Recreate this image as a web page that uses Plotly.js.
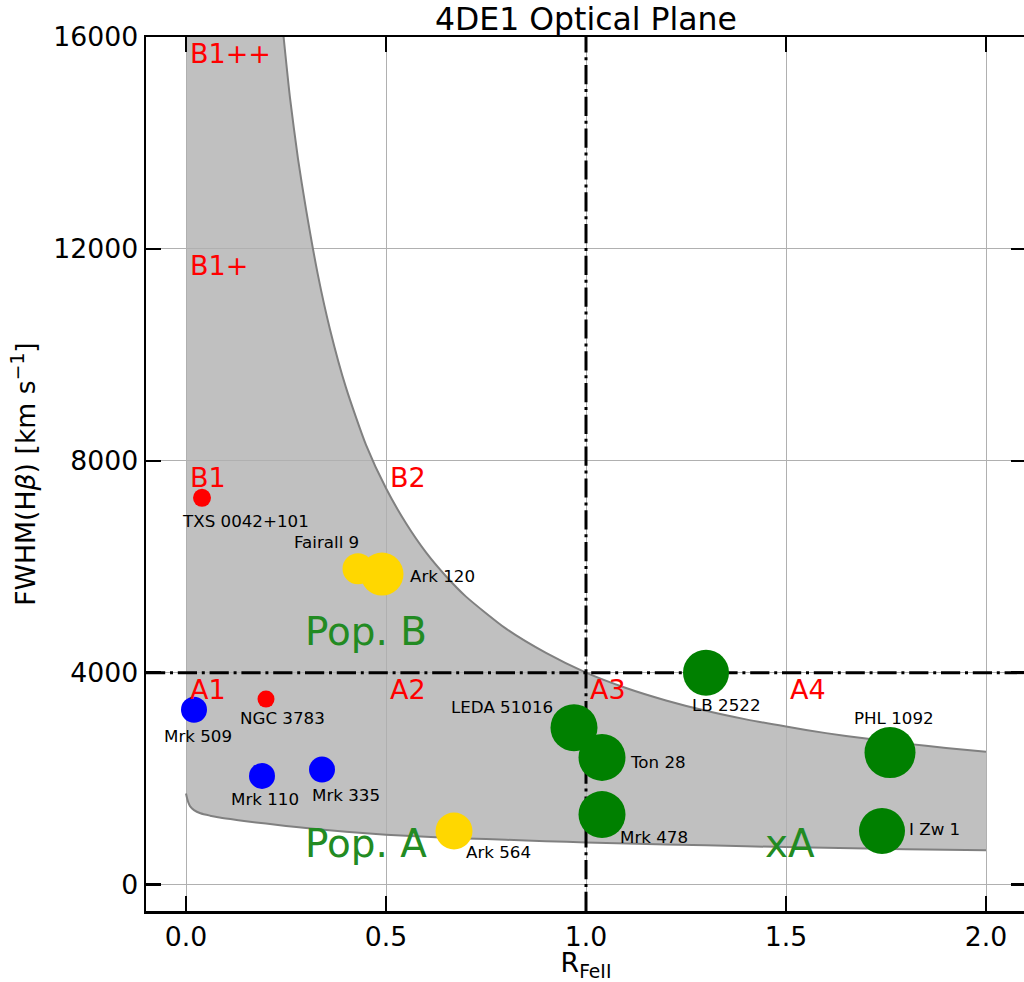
<!DOCTYPE html>
<html><head><meta charset="utf-8">
<script src="https://cdn.plot.ly/plotly-3.0.1.min.js"></script>
<style>html,body{margin:0;padding:0;overflow:hidden;background:#fff}</style>
</head><body><div id="chart" style="width:1030px;height:982px"></div>
<script>
// ---------------- data ----------------
const sourceNames = ['TXS 0042+101','NGC 3783','Mrk 509','Mrk 110','Mrk 335','Fairall 9','Ark 120','Ark 564','LEDA 51016','Ton 28','Mrk 478','LB 2522','PHL 1092','I Zw 1'];
const sourceR     = [0.04, 0.20, 0.02, 0.19, 0.34, 0.43, 0.49, 0.67, 0.97, 1.04, 1.04, 1.30, 1.76, 1.74];
const sourceFWHM  = [7300, 3500, 3300, 2050, 2170, 5960, 5860, 1010, 2960, 2400, 1320, 4000, 2490, 1010];

// upper envelope of the occupied region
const upperR = [0.244, 0.26, 0.28, 0.30, 0.33, 0.36, 0.40, 0.45, 0.50, 0.55, 0.60, 0.65, 0.70, 0.80, 0.90, 1.00, 1.10, 1.20, 1.30, 1.40, 1.50, 1.60, 1.70, 1.80, 1.90, 2.00];
const upperF = [16000, 14850, 13700, 12750, 11500, 10480, 9380, 8300, 7480, 6820, 6270, 5820, 5435, 4830, 4372, 4000, 3710, 3475, 3280, 3118, 2982, 2858, 2755, 2660, 2578, 2505];
// lower envelope
const lowerR = [0, 0.003, 0.006, 0.01, 0.02, 0.036, 0.06, 0.08, 0.111, 0.15, 0.2, 0.25, 0.3, 0.4, 0.5, 0.6, 0.7, 0.8, 0.9, 1.0, 1.2, 1.4, 1.6, 1.8, 2.0];
const lowerF = [1719, 1620, 1545, 1480, 1405, 1345, 1300, 1270, 1235, 1195, 1150, 1105, 1065, 995, 940, 900, 870, 845, 818, 795, 757, 722, 692, 668, 648];

// population boundaries
const boundaryR = 1.0;
const boundaryFWHM = 4000;

// spectral-type region labels
const regionNames = ['B1++','B1+','B1','B2','A1','A2','A3','A4'];
const regionR     = [0.01, 0.01, 0.01, 0.51, 0.01, 0.51, 1.01, 1.51];
const regionF     = [15500, 11500, 7500, 7500, 3500, 3500, 3500, 3500];

const popNames = ['Pop. B', 'Pop. A', 'xA'];
const popR     = [0.30, 0.30, 1.45];
const popF     = [4500, 500, 500];

// axes
const xRange = [-0.1, 2.1];
const yRange = [-500, 16000];
const xTicks = [0.0, 0.5, 1.0, 1.5, 2.0];
const yTicks = [0, 4000, 8000, 12000, 16000];

// ---------------- styles ----------------
const markerColors = ['#ff0000','#ff0000','#0000ff','#0000ff','#0000ff','#ffd700','#ffd700','#ffd700','#008000','#008000','#008000','#008000','#008000','#008000'];
const markerSizes  = [18, 17, 26, 26, 26, 31, 43, 37, 47, 47, 47, 46, 51, 46];
// label offsets (px, right / down) from marker centre
const labelDX = [43, 16, 4, 3, 24, -32, 60, 44, -72, 56, 52, 20, 4, 52];
const labelDY = [23, 19, 26, 23, 25, -27, 2, 21, -21, 5, 22, 32, -35, -2];

const FONT = 'DejaVu Sans, Liberation Sans, sans-serif';

// ---------------- traces ----------------
const fillX = [0].concat(upperR, lowerR.slice().reverse());
const fillY = [yRange[1]].concat(upperF, lowerF.slice().reverse());

const traces = [
  {x: fillX, y: fillY, type: 'scatter', mode: 'lines', fill: 'toself',
   fillcolor: 'rgba(176,176,176,0.8)', line: {width: 0}, hoverinfo: 'skip'},
  {x: upperR, y: upperF, type: 'scatter', mode: 'lines', line: {color: '#808080', width: 2, shape: 'spline', smoothing: 0.6}, hoverinfo: 'skip'},
  {x: lowerR, y: lowerF, type: 'scatter', mode: 'lines', line: {color: '#808080', width: 2, shape: 'spline', smoothing: 0.6}, hoverinfo: 'skip'},
  {x: xRange, y: [boundaryFWHM, boundaryFWHM], type: 'scatter', mode: 'lines',
   line: {color: '#000', width: 3, dash: '19.2px,4.8px,3px,4.8px'}, hoverinfo: 'skip'},
  {x: [boundaryR, boundaryR], y: yRange, type: 'scatter', mode: 'lines',
   line: {color: '#000', width: 3, dash: '19.2px,4.8px,3px,4.8px'}, hoverinfo: 'skip'},
  {x: sourceR, y: sourceFWHM, type: 'scatter', mode: 'markers',
   marker: {color: markerColors, size: markerSizes, opacity: 1, line: {width: 0}}}
];

// ---------------- annotations ----------------
const annotations = [];
sourceNames.forEach((n, i) => annotations.push({
  x: sourceR[i], y: sourceFWHM[i], text: n, showarrow: false,
  xanchor: 'center', yanchor: 'middle', xshift: labelDX[i], yshift: -labelDY[i],
  font: {family: FONT, size: 16.7, color: '#000'}
}));
regionNames.forEach((n, i) => annotations.push({
  x: regionR[i], y: regionF[i], text: n, showarrow: false,
  xanchor: 'left', yanchor: 'middle', xshift: -2, yshift: 0.365 * 27,
  font: {family: FONT, size: 27, color: '#ff0000'}
}));
popNames.forEach((n, i) => annotations.push({
  x: popR[i], y: popF[i], text: n, showarrow: false,
  xanchor: 'left', yanchor: 'middle', xshift: -3, yshift: 0.365 * 38.9,
  font: {family: FONT, size: 38.9, color: '#228b22'}
}));

const axisCommon = {
  showline: true, linecolor: '#000', linewidth: 2.5, mirror: 'ticks',
  ticks: 'inside', ticklen: 15, tickwidth: 2.5, tickcolor: '#000',
  showgrid: true, gridcolor: '#b0b0b0', gridwidth: 1, zeroline: false,
  tickfont: {family: FONT, size: 26.7, color: '#000'}
};

const layout = {
  width: 1030, height: 982,
  margin: {l: 146, r: 4, t: 37, b: 71},
  paper_bgcolor: '#fff', plot_bgcolor: '#fff',
  showlegend: false,
  title: {text: '4DE1 Optical Plane', font: {family: FONT, size: 31.5, color: '#000'},
          xref: 'paper', x: 0.5, xanchor: 'center', yref: 'paper', y: 1, yanchor: 'bottom', pad: {b: 7}},
  xaxis: Object.assign({}, axisCommon, {range: xRange, tickvals: xTicks, ticktext: xTicks.map(v => v.toFixed(1)),
          title: {text: 'R<sub>FeII</sub>', font: {family: FONT, size: 26.7, color: '#000'}, standoff: 10}}),
  yaxis: Object.assign({}, axisCommon, {range: yRange, tickvals: yTicks, ticktext: yTicks.map(v => String(v)),
          title: {text: 'FWHM(H<i>β</i>) [km s<sup>−1</sup>]', font: {family: FONT, size: 26.7, color: '#000'}, standoff: 10}}),
  annotations: annotations
};

Plotly.newPlot('chart', traces, layout, {displayModeBar: false, staticPlot: true});
</script></body></html>
